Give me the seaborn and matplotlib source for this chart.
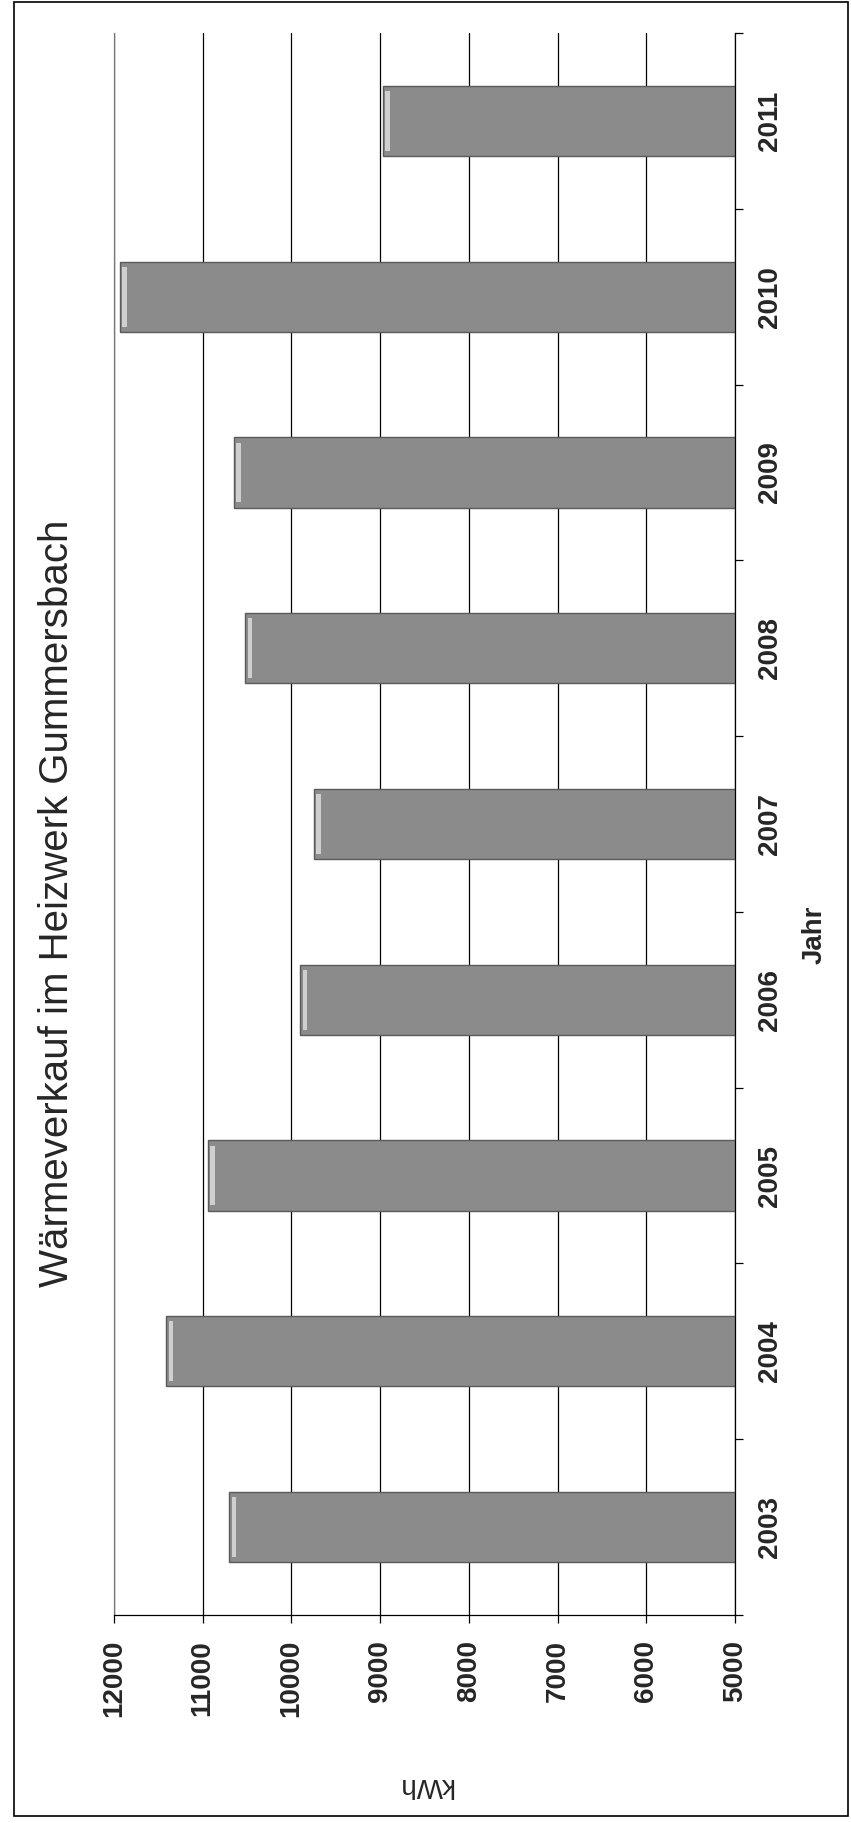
import numpy as np
import pandas as pd
import seaborn as sns
import matplotlib.pyplot as plt
from matplotlib.patches import Rectangle
from matplotlib.ticker import FixedLocator

# ── data ──────────────────────────────────────────────────────────────────────
years = ['2003', '2004', '2005', '2006', '2007', '2008', '2009', '2010', '2011']
kwh = [10700, 11410, 10940, 9900, 9750, 10520, 10650, 11930, 8970]
value_ticks = [5000, 6000, 7000, 8000, 9000, 10000, 11000, 12000]

title = 'Wärmeverkauf im Heizwerk Gummersbach'
x_title = 'Jahr'
y_title = 'kWh'

df = pd.DataFrame({'Jahr': years, 'kWh': kwh})
order = years[::-1]   # 2011 on top, 2003 at the bottom

sns.set_theme(style='white')
plt.rcParams['font.family'] = ['Liberation Sans', 'DejaVu Sans']

W, H = 851, 1823
fig = plt.figure(figsize=(W / 100, H / 100), dpi=100)

# the chart is printed turned on its side: bars run right -> left
ax = fig.add_axes([114 / W, 1 - 1615 / H, (735 - 114) / W, (1615 - 33) / H])

sns.barplot(data=df, x='kWh', y='Jahr', orient='h', order=order,
            width=0.4, color='#8b8b8b', saturation=1,
            edgecolor='#5a5a5a', linewidth=1, ax=ax)

# light bevel strip near the end of every bar (Excel 3D look)
for yr, v in zip(years, kwh):
    ax.barh(order.index(yr), 55, left=v - 80, height=0.34,
            color='#cfcfcf', edgecolor='none', zorder=3)

ax.set_xlim(12000, 5000)
ax.set_ylim(len(years) - 0.5, -0.5)
ax.set_xticks(value_ticks)
ax.set_xticklabels([str(v) for v in value_ticks], rotation=90,
                   fontsize=20, fontweight='bold')
ax.grid(axis='x', color='black', linewidth=0.9)
ax.grid(axis='y', visible=False)
ax.set_axisbelow(True)

# category axis sits on the right side
ax.yaxis.tick_right()
ax.set_yticks(range(len(years)))
ax.set_yticklabels(order, rotation=90, fontsize=20, fontweight='bold',
                   va='center')
ax.yaxis.set_minor_locator(FixedLocator(np.arange(-0.5, len(years), 1.0)))
ax.tick_params(axis='y', which='major', length=0, pad=16, right=True, left=False)
ax.tick_params(axis='y', which='minor', length=6, width=0.9, color='black',
               direction='out', right=True, left=False)
ax.tick_params(axis='x', which='major', length=6, width=0.9, color='black',
               direction='out', bottom=True, pad=12)

ax.set_xlabel('')
ax.set_ylabel('')
ax.spines['top'].set_visible(False)
for side in ['left', 'right', 'bottom']:
    ax.spines[side].set_color('black')
    ax.spines[side].set_linewidth(0.9)
ax.spines['left'].set_color('#777777')

# titles, rotated like the scan
fig.text(57 / W, 1 - 903 / H, title, rotation=90, ha='center', va='center',
         fontsize=29)
fig.text(815 / W, 1 - 935 / H, x_title, rotation=90, ha='center', va='center',
         fontsize=20, fontweight='bold')
fig.text(425 / W, 1 - 1785 / H, y_title, rotation=180, ha='center', va='center',
         fontsize=20)

# outer frame of the chart
fig.patches.append(Rectangle((14 / W, 1 - 1816 / H), (848 - 14) / W, (1816 - 2) / H,
                             transform=fig.transFigure, fill=False,
                             edgecolor='black', linewidth=1.2))

fig.savefig('out.png', dpi=100)
